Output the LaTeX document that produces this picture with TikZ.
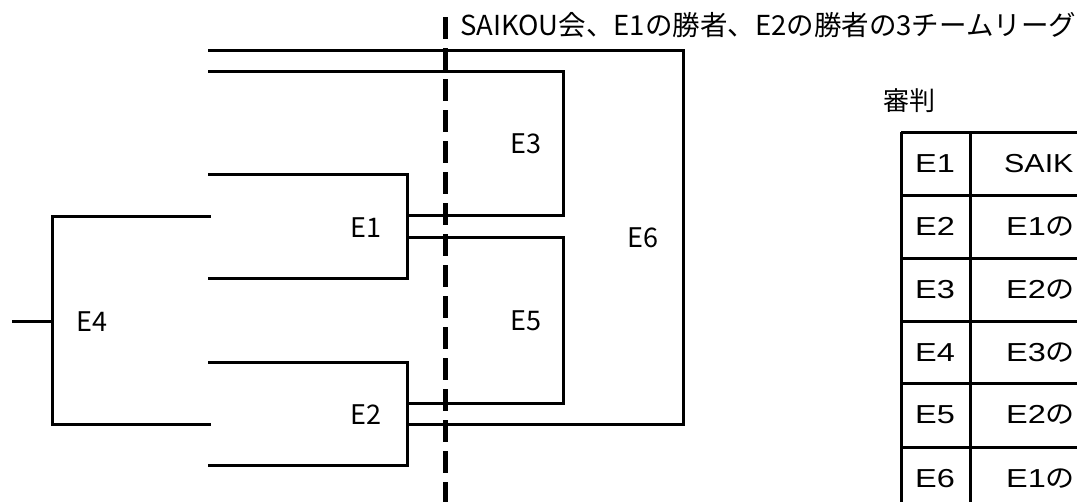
\documentclass[tikz,border=0pt]{standalone}
\usepackage{fontspec}
\setmainfont{Noto Sans CJK JP}
\newfontfamily\tablefont[FakeStretch=1.25]{Liberation Sans}
\newfontfamily\tablefontn[FakeStretch=1.17]{Liberation Sans}
\newfontfamily\tablecjk[FakeStretch=1.12]{Noto Sans CJK JP}
\begin{document}
\begin{tikzpicture}[x=1pt,y=-1pt,
  bracket/.style={line width=3pt, line join=miter, line cap=rect},
  divider/.style={line width=5pt, dash pattern=on 22pt off 9pt, dash phase=-9pt},
  tabline/.style={line width=3pt},
  lab/.style={font=\fontsize{27}{27}\selectfont, anchor=base, inner sep=0pt},
  tit/.style={font=\fontsize{27.5}{28}\selectfont, anchor=base west, inner sep=0pt},
  cell/.style={font=\fontsize{26}{26}\selectfont\tablefont, inner sep=0pt}]
\useasboundingbox (0,0) rectangle (1077,501);

% ---- coordinates of the bracket ----
\coordinate (e4in) at (13,321);
\coordinate (e4m)  at (52,321);
\coordinate (e4t)  at (52,216);
\coordinate (e4b)  at (52,424);
\coordinate (e4te) at (209,216);
\coordinate (e4be) at (209,424);

\coordinate (e1a) at (209,174);
\coordinate (e1b) at (407,174);
\coordinate (e1c) at (407,278);
\coordinate (e1d) at (209,278);

\coordinate (e2a) at (209,362);
\coordinate (e2b) at (407,362);
\coordinate (e2c) at (407,465);
\coordinate (e2d) at (209,465);

\coordinate (e3a) at (209,71);
\coordinate (e3b) at (563,71);
\coordinate (e3c) at (563,215);
\coordinate (e3d) at (407,215);

\coordinate (e5a) at (407,237);
\coordinate (e5b) at (563,237);
\coordinate (e5c) at (563,403);
\coordinate (e5d) at (407,403);

\coordinate (e6a) at (209,50);
\coordinate (e6b) at (683,50);
\coordinate (e6c) at (683,424);
\coordinate (e6d) at (407,424);

% ---- bracket lines ----
\draw[bracket] (e4in) -- (e4m);
\draw[bracket] (e4te) -- (e4t) -- (e4b) -- (e4be);
\draw[bracket] (e1a) -- (e1b) -- (e1c) -- (e1d);
\draw[bracket] (e2a) -- (e2b) -- (e2c) -- (e2d);
\draw[bracket] (e3a) -- (e3b) -- (e3c) -- (e3d);
\draw[bracket] (e5a) -- (e5b) -- (e5c) -- (e5d);
\draw[bracket] (e6a) -- (e6b) -- (e6c) -- (e6d);

% ---- dashed divider ----
\coordinate (dtop) at (445,8);
\coordinate (dbot) at (445,505);
\draw[divider] (dtop) -- (dbot);

% ---- labels ----
\node[lab] (l1) at (366,237) {E1};
\node[lab] (l2) at (366,424) {E2};
\node[lab] (l3) at (526,153) {E3};
\node[lab] (l4) at (92,331) {E4};
\node[lab] (l5) at (526,330) {E5};
\node[lab] (l6) at (643,247) {E6};

\node[tit] (title) at (460,35) {SAIKOU会、E1の勝者、E2の勝者の3チームリーグ};

% ---- referee table ----
\node[font=\fontsize{26}{26}\selectfont, anchor=base west, inner sep=0pt] (ref) at (883,110) {審判};

\foreach \yy in {132,195,258,321,383,447,510}
  \draw[tabline] (901,\yy) -- (1082,\yy);
\draw[tabline] (901,132) -- (901,505);
\draw[tabline] (970,132) -- (970,505);

\node[cell, anchor=base] (k1) at (935,172) {E1};
\node[cell, anchor=base] (k2) at (935,235) {E2};
\node[cell, anchor=base] (k3) at (935,298) {E3};
\node[cell, anchor=base] (k4) at (935,361) {E4};
\node[cell, anchor=base] (k5) at (935,423) {E5};
\node[cell, anchor=base] (k6) at (935,487) {E6};

\node[cell, anchor=base west] (v1) at (1004,172) {\tablefontn SAIK};
\node[cell, anchor=base west] (v2) at (1006,235) {E1\tablecjk の};
\node[cell, anchor=base west] (v3) at (1006,298) {E2\tablecjk の};
\node[cell, anchor=base west] (v4) at (1006,361) {E3\tablecjk の};
\node[cell, anchor=base west] (v5) at (1006,423) {E2\tablecjk の};
\node[cell, anchor=base west] (v6) at (1006,487) {E1\tablecjk の};
\end{tikzpicture}
\end{document}
